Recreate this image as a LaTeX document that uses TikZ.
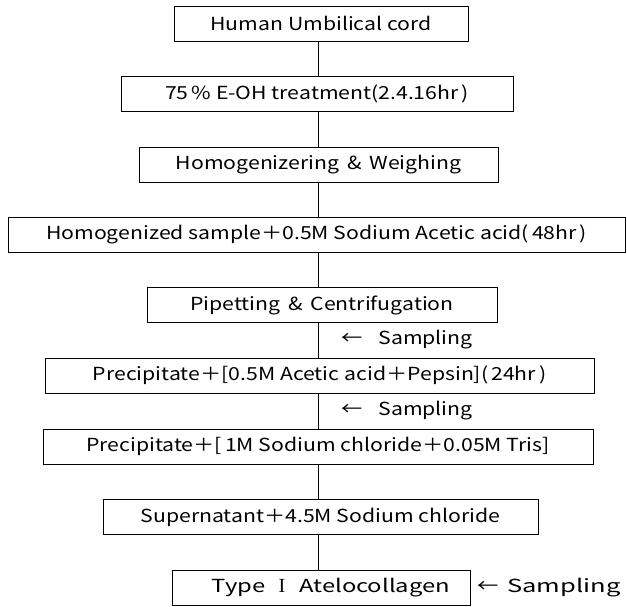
\documentclass[tikz,border=0pt]{standalone}
\usepackage{fontspec}
\setmainfont[FakeStretch=1.18]{Noto Sans CJK JP}
\newfontfamily\romnum{Liberation Serif}
\begin{document}
\begin{tikzpicture}[x=1pt,y=-1pt,
  box/.style={draw, line width=0.7pt, minimum height=35pt, inner sep=0pt, font=\fontsize{18}{21}\selectfont},
  samp/.style={anchor=west, inner sep=0pt, font=\fontsize{18}{21}\selectfont},
  link/.style={line width=0.7pt}]
\useasboundingbox (0,0) rectangle (627,606);
\coordinate (axis) at (318,0);
\node[box, minimum width=294pt] (n1) at (321,23.5) {Human Umbilical cord};
\node[box, minimum width=392pt] (n2) at (317,93.5) {75\,\% E-OH treatment(2.4.16hr\,)};
\node[box, minimum width=359pt] (n3) at (318.5,164.5) {Homogenizering \,\&\, Weighing};
\node[box, minimum width=617pt] (n4) at (316.5,234.5) {Homogenized sample＋0.5M Sodium Acetic acid(\,48hr\,)};
\node[box, minimum width=350pt] (n5) at (322,305) {Pipetting \,\&\, Centrifugation};
\node[box, minimum width=549pt] (n6) at (319.5,375.5) {Precipitate＋[0.5M Acetic acid＋Pepsin](\,24hr\,)};
\node[box, minimum width=550pt] (n7) at (318,446.5) {Precipitate＋[\,1M Sodium chloride＋0.05M Tris]};
\node[box, minimum width=435pt] (n8) at (320.5,517) {Supernatant＋4.5M Sodium chloride};
\node[box, minimum width=298pt] (n9) at (321,587.5) {\hspace{20pt}\scalebox{1.12}[1]{Type}\hspace{13pt}{\romnum\fontsize{20}{21}\selectfont I}\hspace{14pt}\scalebox{1.12}[1]{Atelocollagen}};
\node[samp] (s1) at (341,340) {←\hspace{16pt}Sampling};
\node[samp] (s2) at (341,411) {←\hspace{16pt}Sampling};
\node[samp] (s3) at (477,588) {←\hspace{9pt}\scalebox{1.2}[1]{Sampling}};
\draw[link] (n1.south -| axis) -- (n2.north -| axis);
\draw[link] (n2.south -| axis) -- (n3.north -| axis);
\draw[link] (n3.south -| axis) -- (n4.north -| axis);
\draw[link] (n4.south -| axis) -- (n5.north -| axis);
\draw[link] (n5.south -| axis) -- (n6.north -| axis);
\draw[link] (n6.south -| axis) -- (n7.north -| axis);
\draw[link] (n7.south -| axis) -- (n8.north -| axis);
\draw[link] (n8.south -| axis) -- (n9.north -| axis);
\end{tikzpicture}
\end{document}
